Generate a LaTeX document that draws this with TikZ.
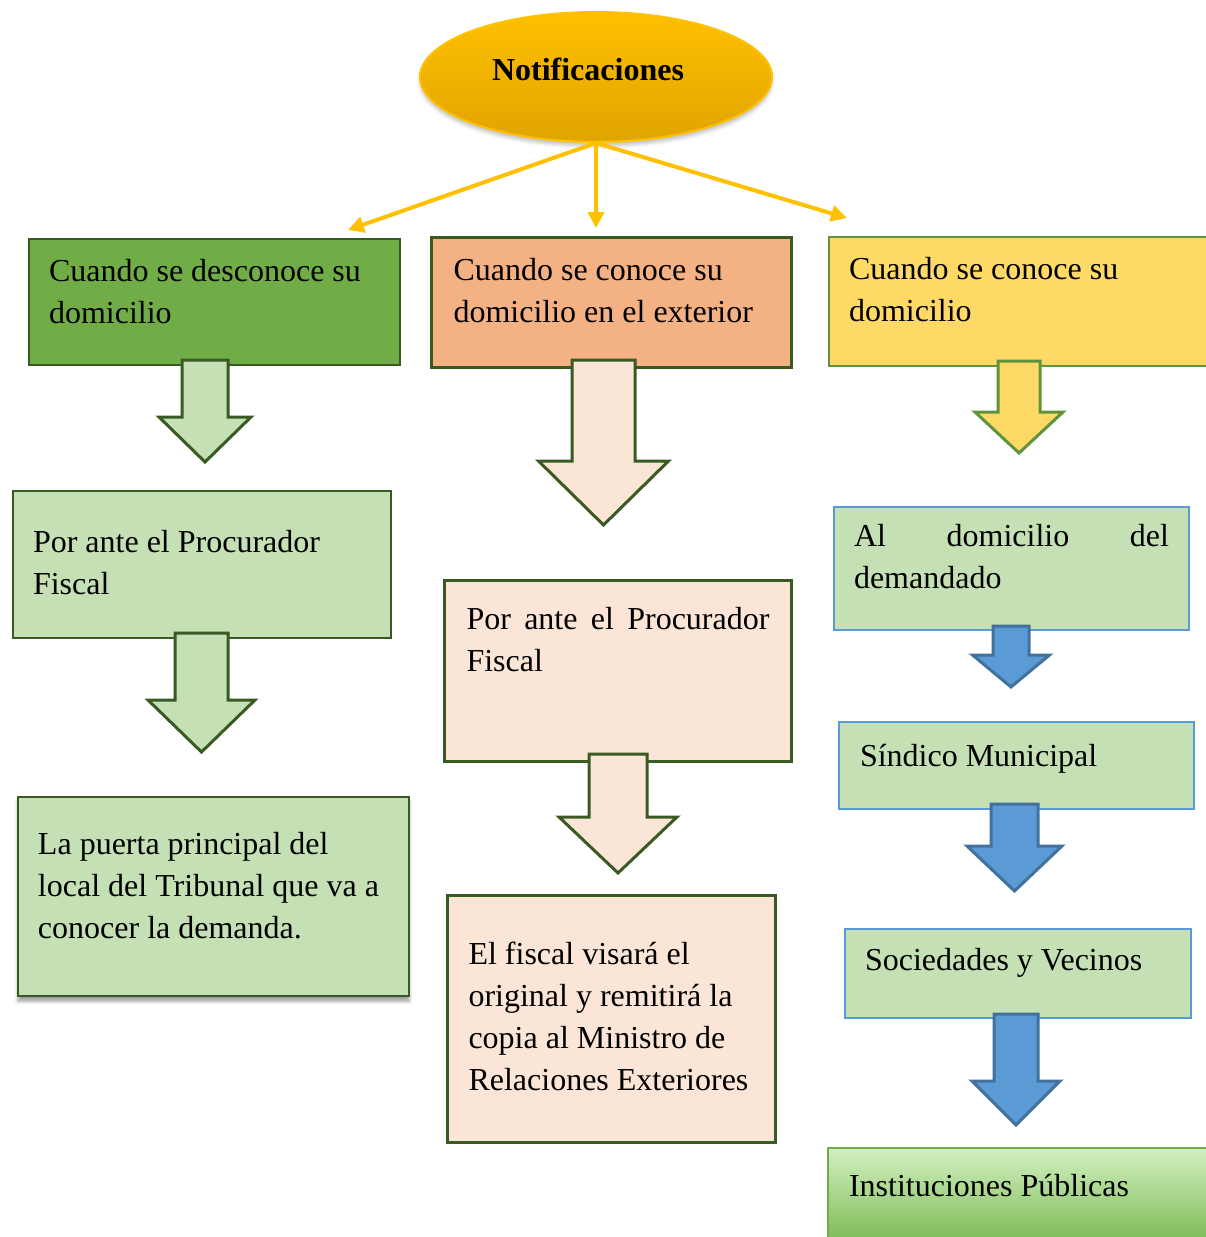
\documentclass[tikz,border=0pt]{standalone}
\usepackage{fontspec}
\setmainfont{Liberation Serif}
\usepackage{tikz}
\usetikzlibrary{arrows.meta, positioning, shapes.geometric, shadows.blur}

\definecolor{gold}{HTML}{FFC000}
\definecolor{golddark}{HTML}{E0A400}
\definecolor{leaf}{HTML}{70AD47}
\definecolor{forest}{HTML}{3A5A24}
\definecolor{salmon}{HTML}{F4B183}
\definecolor{peach}{HTML}{FBE5D6}
\definecolor{butter}{HTML}{FFD966}
\definecolor{mint}{HTML}{C5E0B4}
\definecolor{sky}{HTML}{5B9BD5}
\definecolor{skydark}{HTML}{41719C}
\definecolor{lime}{HTML}{D2F0C2}
\definecolor{limedark}{HTML}{7AB850}

% block arrow: style, centre x, shaft half width, top, head y, head half width, tip
\newcommand{\blockarrow}[7]{%
  \draw[#1] ({#2-#3},#4) -- ({#2+#3},#4) -- ({#2+#3},#5) -- ({#2+#6},#5)
    -- (#2,#7) -- ({#2-#6},#5) -- ({#2-#3},#5) -- cycle;}

\begin{document}
\begin{tikzpicture}[
  x=0.5pt, y=-0.5pt,
  >={Triangle[length=8pt,width=8pt]},
  font=\fontsize{16}{21}\selectfont,
  box/.style={
    rectangle, draw, anchor=north west,
    inner ysep=0pt, inner xsep=10pt,
    align=flush left, line width=1pt
  },
  unkbox/.style={box, fill=leaf, draw=forest},
  extbox/.style={box, fill=salmon, draw=forest, line width=1.5pt},
  knownbox/.style={box, fill=butter, draw=leaf!85!black},
  mintbox/.style={box, fill=mint, draw=forest},
  peachbox/.style={box, fill=peach, draw=forest, line width=1.5pt},
  bluebox/.style={box, fill=mint, draw=sky},
  instbox/.style={box, top color=lime, bottom color=limedark, draw=leaf},
  link/.style={->, draw=gold, line width=2pt},
  mintarrow/.style={fill=mint, draw=forest, line width=1.5pt},
  peacharrow/.style={fill=peach, draw=forest, line width=1.5pt},
  butterarrow/.style={fill=butter, draw=leaf!85!black, line width=1.5pt},
  skyarrow/.style={fill=sky, draw=skydark, line width=1.5pt},
]
\useasboundingbox (0,0) rectangle (1205,1237);

% --- Top ---
\node[ellipse, minimum width=176pt, minimum height=65pt,
  top color=gold, bottom color=golddark, draw=gold, line width=1pt,
  font=\fontsize{16}{21}\selectfont\bfseries, text height=3pt, text depth=0pt,
  blur shadow={shadow xshift=0pt, shadow yshift=-2pt, shadow opacity=25}]
  (noti) at (596,77) {Notificaciones\hspace*{8pt}};

% --- First row ---
\node[unkbox, text width=165.5pt, text height=21pt, text depth=42pt]
  (unk) at (28,238) {Cuando se desconoce su\\domicilio};
\node[extbox, inner xsep=11pt, text width=158pt, text height=21.5pt, text depth=43.5pt]
  (ext) at (430,236) {Cuando se conoce su\\domicilio en el exterior};
\node[knownbox, text width=171pt, text height=21pt, text depth=43.5pt]
  (known) at (828,236) {Cuando se conoce su\\domicilio};

% --- Left column ---
\node[mintbox, text width=169pt, text height=30.5pt, text depth=43pt]
  (procL) at (12,490) {Por ante el Procurador\\Fiscal};
\node[mintbox, text width=175.5pt, text height=28.5pt, text depth=71pt,
  blur shadow={shadow xshift=0pt, shadow yshift=-2.5pt, shadow opacity=40}]
  (puerta) at (17,796) {La puerta principal del\\local del Tribunal que va a\\conocer la demanda.};

% --- Middle column ---
\node[peachbox, inner xsep=11pt, text width=151.5pt, text height=24.5pt, text depth=66pt]
  (procM) at (443,579) {Por\hfill ante\hfill el\hfill Procurador\\Fiscal};
\node[peachbox, inner xsep=10.5pt, text width=143pt, text height=34.5pt, text depth=89pt]
  (fiscal) at (446,894) {El fiscal visará el\\original y remitirá la\\copia al Ministro de\\Relaciones Exteriores};

% --- Right column ---
\node[bluebox, text width=157.5pt, text height=19.5pt, text depth=42pt]
  (domic) at (833,506) {Al\hfill domicilio\hfill del\\demandado};
\node[bluebox, inner xsep=10.5pt, text width=156.5pt, text height=22pt, text depth=21.5pt]
  (sindico) at (838,721) {Síndico Municipal};
\node[bluebox, text width=153pt, text height=20.5pt, text depth=24pt]
  (socied) at (844,928) {Sociedades y Vecinos};
\node[instbox, inner xsep=10.5pt, text width=173pt, text height=24pt, text depth=25pt]
  (instit) at (827,1147) {Instituciones Públicas};

% --- Links from the top ---
\coordinate (tl) at (348,230);
\coordinate (tm) at (596,228);
\coordinate (tr) at (847,218);
\draw[link] (noti.south) -- (tl);
\draw[link] (noti.south) -- (tm);
\draw[link] (noti.south) -- (tr);

% --- Block arrows ---
\blockarrow{mintarrow}{205}{23}{360}{417}{46}{462}
\blockarrow{mintarrow}{201.5}{26.5}{633}{700}{53.5}{752}
\blockarrow{peacharrow}{603.5}{31.5}{360}{461}{65}{525}
\blockarrow{peacharrow}{618}{29}{754}{817}{59}{873}
\blockarrow{butterarrow}{1019}{21}{361}{412}{44}{453}
\blockarrow{skyarrow}{1011}{18}{626}{655}{38.5}{687}
\blockarrow{skyarrow}{1014.5}{23.5}{804}{846}{47.5}{891}
\blockarrow{skyarrow}{1016}{22}{1014}{1081}{44}{1125}

\end{tikzpicture}
\end{document}
